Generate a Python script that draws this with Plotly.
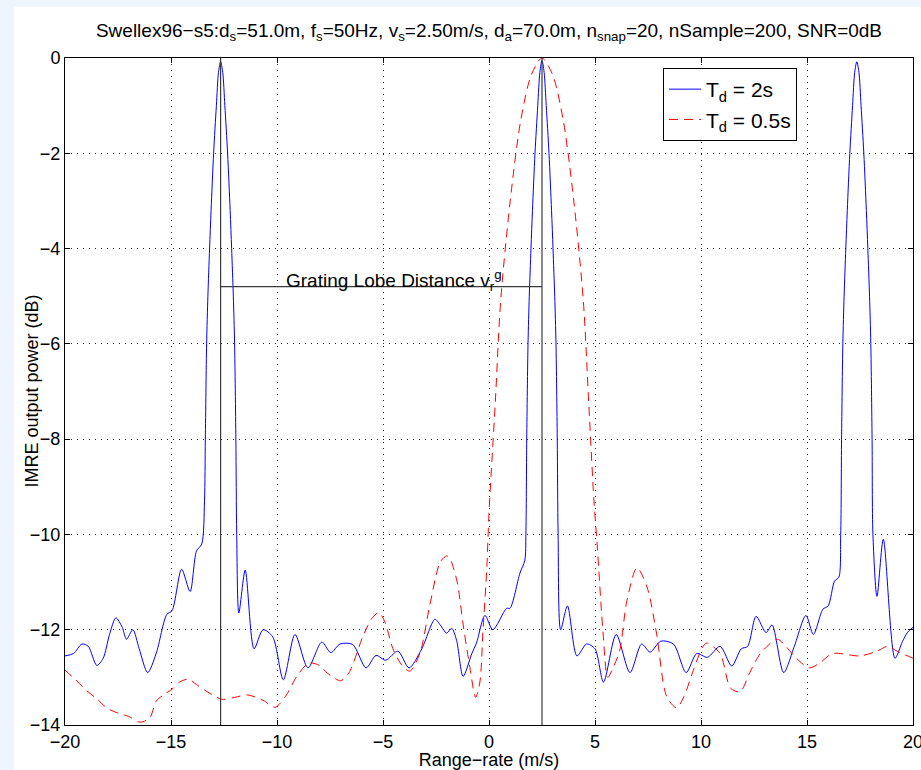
import plotly.graph_objects as go

# ---------------- data ----------------
blue_x = [-20.0, -19.6, -19.2, -18.9, -18.5, -18.2, -17.9, -17.6, -17.3, -17.1, -16.8, -16.5,
          -16.1, -15.7, -15.2, -14.95, -14.5, -14.1, -13.8, -13.55,
          -13.42, -13.38, -13.32, -13.26, -13.18, -13.11, -12.99, -12.86, -12.76, -12.66,
          -12.56, -12.46, -12.33, -12.21, -12.14, -12.06, -12.0, -11.94, -11.9,
          -11.8, -11.5, -11.08, -10.66, -10.2, -9.7, -9.15, -8.54, -7.89, -7.46, -7.03,
          -6.43, -5.8, -5.33, -4.87, -4.3, -3.77, -3.17, -2.55, -2.3, -2.0, -1.76, -1.53,
          -1.22, -0.81, -0.59, -0.19, 0.18, 0.83, 0.99, 1.46, 1.69,
          1.74, 1.78, 1.84, 1.9, 1.98, 2.05, 2.17, 2.3, 2.4, 2.5,
          2.6, 2.7, 2.83, 2.95, 3.02, 3.1, 3.16, 3.22, 3.26,
          3.38, 3.7, 4.15, 4.6, 5.0, 5.4, 6.0, 6.65, 7.2, 7.6, 8.1, 8.7, 9.3, 9.8,
          10.3, 10.9, 11.45, 11.9, 12.2, 12.6, 13.07, 13.35, 13.9, 14.4, 14.95, 15.3,
          15.75, 16.0, 16.3, 16.5,
          16.59, 16.63, 16.69, 16.75, 16.83, 16.9, 17.02, 17.15, 17.25, 17.35,
          17.45, 17.55, 17.68, 17.8, 17.87, 17.95, 18.01, 18.07, 18.11,
          18.3, 18.6, 19.15, 19.5, 19.75, 20.0]
blue_y = [-12.55, -12.5, -12.3, -12.35, -12.75, -12.6, -12.1, -11.75, -11.95, -12.2, -12.0, -12.4,
          -12.9, -12.5, -11.68, -11.6, -10.73, -11.2, -10.35, -10.2,
          -9.3, -8.0, -6.0, -5.0, -4.0, -3.2, -2.0, -1.0, -0.3, -0.08,
          -0.3, -1.0, -2.0, -3.2, -4.0, -5.0, -6.0, -8.0, -10.0,
          -11.65, -10.75, -12.4, -12.0, -12.15, -13.05, -12.1, -12.8, -12.26, -12.48, -12.3,
          -12.31, -12.8, -12.54, -12.64, -12.45, -12.8, -12.4, -11.78, -11.9, -12.07, -11.97, -12.22,
          -12.98, -12.5, -12.28, -11.7, -12.0, -11.55, -11.55, -10.81, -10.54,
          -10.0, -8.0, -6.0, -5.0, -4.0, -3.2, -2.0, -1.0, -0.3, -0.05,
          -0.3, -1.0, -2.0, -3.2, -4.0, -5.0, -6.0, -8.0, -10.0,
          -12.0, -11.5, -12.55, -12.3, -12.4, -13.1, -12.1, -12.9, -12.3, -12.47, -12.24, -12.3, -12.9, -12.5,
          -12.58, -12.35, -12.76, -12.4, -12.35, -11.72, -12.06, -11.9, -12.9, -12.35, -11.7, -12.1,
          -11.57, -11.5, -10.98, -10.9,
          -10.0, -8.0, -6.0, -5.0, -4.0, -3.2, -2.0, -1.0, -0.3, -0.08,
          -0.3, -1.0, -2.0, -3.2, -4.0, -5.0, -6.0, -8.0, -10.0,
          -11.3, -10.1, -12.6, -12.25, -12.05, -11.95]

red_x = [-20.0, -19.5, -19.0, -18.5, -18.0, -17.5, -17.0, -16.46, -16.0, -15.7, -15.3, -14.95,
         -14.6, -14.2, -13.8, -13.3, -12.6, -12.0, -11.4, -10.66, -10.1, -9.6, -9.05, -8.5,
         -8.0, -7.6, -7.0, -6.6, -5.94, -5.5, -5.19, -4.9, -4.53, -4.1, -3.73, -3.25, -2.8,
         -2.3, -2.0, -1.85, -1.5, -1.23, -0.9, -0.63, -0.43, -0.29, -0.1, 0.0, 0.3, 0.55,
         1.0, 1.5, 2.0, 2.5, 3.0, 3.5, 4.0, 4.45, 4.7, 4.95, 5.1, 5.38, 5.6, 5.85, 6.17,
         6.5, 6.98, 7.45, 7.9, 8.38, 8.85, 9.2, 9.6, 10.07, 10.27, 10.9, 11.4, 11.85, 12.3,
         12.8, 13.6, 14.0, 14.5, 15.1, 15.6, 16.2, 17.5, 18.3, 18.8, 19.25, 20.0]
red_y = [-12.85, -13.05, -13.27, -13.45, -13.65, -13.75, -13.82, -13.94, -13.85, -13.5, -13.35, -13.25,
         -13.1, -13.04, -13.15, -13.3, -13.46, -13.42, -13.37, -13.48, -13.63, -13.4, -12.97, -12.7,
         -12.75, -12.92, -13.07, -12.9, -12.13, -11.75, -11.64, -11.85, -12.4, -12.75, -12.87, -12.48, -11.5,
         -10.58, -10.45, -10.5, -11.0, -11.86, -12.8, -13.42, -13.1, -12.07, -10.68, -9.55, -7.2, -5.1,
         -3.0, -1.3, -0.35, 0.0, -0.35, -1.3, -3.0, -5.1, -7.2, -9.3, -10.2, -12.07, -13.0, -12.8, -12.43,
         -11.4, -10.7, -11.1, -12.07, -13.4, -13.64, -13.4, -12.9, -12.37, -12.28, -12.5, -13.23, -13.3, -12.9,
         -12.5, -12.2, -12.35, -12.6, -12.8, -12.7, -12.5, -12.55, -12.45, -12.35, -12.45, -12.6]

lobe_x = [-12.66, 2.5]          # grating-lobe markers
lobe_dist_y = -4.8              # level of the distance bar
y_range = [-14, 0]
x_range = [-20, 20]
x_ticks = [-20, -15, -10, -5, 0, 5, 10, 15, 20]
y_ticks = [-14, -12, -10, -8, -6, -4, -2, 0]

FONT = "Liberation Sans, Arial, Helvetica, sans-serif"

fig = go.Figure()
fig.add_trace(go.Scatter(x=blue_x, y=blue_y, mode="lines", name="T<sub>d</sub> = 2s",
                         line=dict(color="#0000ff", width=1, shape="spline", smoothing=0.8)))
fig.add_trace(go.Scatter(x=red_x, y=red_y, mode="lines", name="T<sub>d</sub> = 0.5s",
                         line=dict(color="#ff0000", width=1, dash="9px,6px", shape="spline", smoothing=0.8)))
for lx in lobe_x:
    fig.add_trace(go.Scatter(x=[lx, lx], y=y_range, mode="lines", showlegend=False,
                             line=dict(color="#3a3a3a", width=1.2), hoverinfo="skip"))
fig.add_trace(go.Scatter(x=lobe_x, y=[lobe_dist_y, lobe_dist_y], mode="lines", showlegend=False,
                         line=dict(color="#3a3a3a", width=1.2), hoverinfo="skip"))

fig.add_annotation(x=-9.67, y=lobe_dist_y, xref="x", yref="y", xanchor="left", yanchor="bottom",
                   text="Grating Lobe Distance v<sub>r</sub><sup>g</sup>", showarrow=False,
                   font=dict(family=FONT, size=19, color="black"), yshift=-9)
# y-axis title (placed as an annotation so it sits where the reference has it)
fig.add_annotation(x=(31 - 65) / 848, y=0.5, xref="paper", yref="paper", xanchor="center", yanchor="middle",
                   text="IMRE output power (dB)", textangle=-90, showarrow=False,
                   font=dict(family=FONT, size=18, color="black"))

axis_common = dict(showline=True, linecolor="black", linewidth=1, mirror="ticks",
                   ticks="inside", ticklen=5, tickcolor="black", tickwidth=1,
                   showgrid=True, gridcolor="#222222", gridwidth=1, griddash="1px,5px",
                   zeroline=False, ticklabeloverflow="allow", automargin=False,
                   tickfont=dict(family=FONT, size=18, color="black"))

fig.update_xaxes(range=x_range, tickvals=x_ticks, **axis_common,
                 title=dict(text="Range\u2212rate (m/s)", font=dict(family=FONT, size=18, color="black"), standoff=0))
fig.update_yaxes(range=y_range, tickvals=y_ticks, **axis_common)

fig.update_layout(
    width=921, height=770, autosize=False,
    margin=dict(l=65, r=8, t=58, b=45, autoexpand=False),
    paper_bgcolor="rgb(238,245,252)", plot_bgcolor="white",
    font=dict(family=FONT, size=18, color="black"),
    title=dict(text="Swellex96\u2212s5:d<sub>s</sub>=51.0m, f<sub>s</sub>=50Hz, v<sub>s</sub>=2.50m/s, "
                    "d<sub>a</sub>=70.0m, n<sub>snap</sub>=20, nSample=200, SNR=0dB",
               x=0.5, xref="paper", xanchor="center", y=1 - 30 / 770, yref="container", yanchor="middle",
               automargin=False, font=dict(family=FONT, size=19, color="black")),
    legend=dict(x=(663 - 65) / 848, y=(725 - 68) / 667, xanchor="left", yanchor="top", bgcolor="white",
                bordercolor="black", borderwidth=1, font=dict(family=FONT, size=21, color="black"),
                tracegroupgap=0, itemwidth=32),
    shapes=[dict(type="rect", xref="paper", yref="paper", layer="below",
                 x0=(14 - 65) / 848, x1=1.05, y0=-0.1, y1=(725 - 7) / 667,
                 fillcolor="white", line=dict(width=0))],
    showlegend=True,
)

fig.write_html("out.html")
